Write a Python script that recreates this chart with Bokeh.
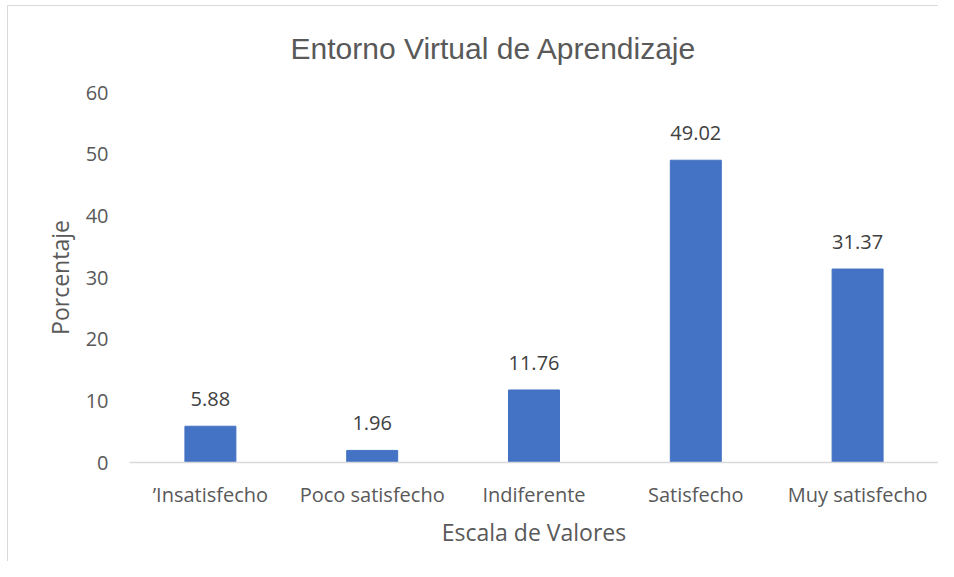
from bokeh.plotting import figure
from bokeh.models import ColumnDataSource, Range1d, FixedTicker
from bokeh.core.properties import value
from bokeh.embed import file_html
from bokeh.resources import INLINE

categories = ["\u2019Insatisfecho", "Poco satisfecho", "Indiferente", "Satisfecho", "Muy satisfecho"]
porcentajes = [5.88, 1.96, 11.76, 49.02, 31.37]
etiquetas = ["5.88", "1.96", "11.76", "49.02", "31.37"]
y_ticks = [0, 10, 20, 30, 40, 50, 60]

src = ColumnDataSource(dict(cat=categories, val=porcentajes, lab=etiquetas))

p = figure(x_range=categories, y_range=Range1d(0, 60), width=938, height=561,
           output_backend="svg", toolbar_location=None,
           title="Entorno Virtual de Aprendizaje",
           min_border_left=129, min_border_right=0, min_border_top=92, min_border_bottom=99)
p.border_fill_color = None
p.background_fill_color = "white"
p.styles = {"background": "linear-gradient(#d9d9d9,#d9d9d9) 7px 5px / 1px 100% no-repeat, "
                          "linear-gradient(#d9d9d9,#d9d9d9) 7px 5px / 100% 1px no-repeat, white"}

p.vbar(x="cat", top="val", width=0.315, source=src, color="#4472C4")
p.text(x="cat", y="val", text="lab", source=src, text_align="center", text_baseline="bottom",
       y_offset=-20, text_font=value("Open Sans"), text_font_size="20px", text_color="#404040")

p.title.align = "left"
p.title.offset = 161
p.title.text_font = "Liberation Sans"
p.title.text_font_size = "30px"
p.title.text_font_style = "normal"
p.title.text_color = "#595959"
p.title.standoff = 56

p.outline_line_color = None
p.xgrid.grid_line_color = None
p.ygrid.grid_line_color = None

p.yaxis.ticker = FixedTicker(ticks=y_ticks)
p.yaxis.axis_line_color = None
p.yaxis.major_tick_line_color = None
p.yaxis.minor_tick_line_color = None
p.yaxis.major_label_text_font = "Open Sans"
p.yaxis.major_label_text_font_size = "20px"
p.yaxis.major_label_text_color = "#595959"
p.yaxis.major_label_standoff = 15
p.yaxis.axis_label = "Porcentaje"
p.yaxis.axis_label_text_font = "Open Sans"
p.yaxis.axis_label_text_font_size = "23px"
p.yaxis.axis_label_text_font_style = "normal"
p.yaxis.axis_label_text_color = "#595959"
p.yaxis.axis_label_standoff = 7

p.xaxis.axis_line_color = "#d9d9d9"
p.xaxis.axis_line_width = 1.5
p.xaxis.major_tick_line_color = None
p.xaxis.minor_tick_line_color = None
p.xaxis.major_label_text_font = "Open Sans"
p.xaxis.major_label_text_font_size = "20px"
p.xaxis.major_label_text_color = "#595959"
p.xaxis.major_label_standoff = 12
p.xaxis.axis_label = "Escala de Valores"
p.xaxis.axis_label_text_font = "Open Sans"
p.xaxis.axis_label_text_font_size = "23px"
p.xaxis.axis_label_text_font_style = "normal"
p.xaxis.axis_label_text_color = "#595959"
p.xaxis.axis_label_standoff = 5

open("out.html", "w").write(file_html(p, INLINE))
